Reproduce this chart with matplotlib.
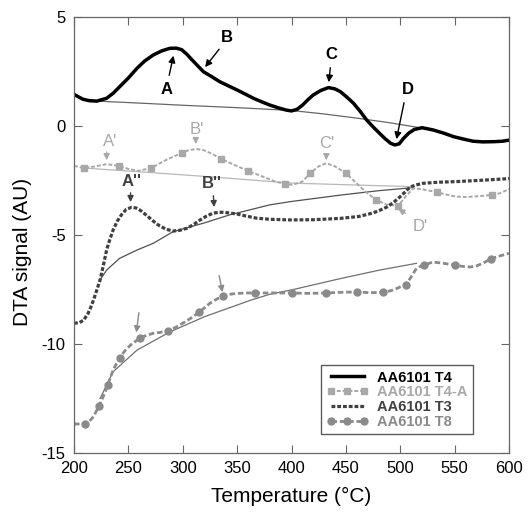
import matplotlib
matplotlib.use("Agg")
import matplotlib.pyplot as plt

plt.rcParams["font.family"] = ["Liberation Sans", "DejaVu Sans"]
plt.rcParams["axes.unicode_minus"] = False

# AA6101 T4 (solid black)
t4_temp = [200, 208, 214, 221, 230, 236, 242, 250, 258, 265, 273, 281, 288, 294, 299, 304, 308, 313,
           319, 327, 334, 342, 350, 358, 365, 373, 380, 388, 395, 400, 405, 410, 415, 420, 427, 434,
           440, 445, 451, 457, 463, 469, 475, 481, 486, 491, 495, 499, 503, 508, 513, 520, 530, 540,
           549, 558, 567, 576, 586, 594, 600]
t4_sig = [1.45, 1.23, 1.16, 1.14, 1.27, 1.5, 1.8, 2.2, 2.65, 2.98, 3.26, 3.45, 3.56, 3.57, 3.5, 3.28,
          3.06, 2.8, 2.49, 2.25, 2.03, 1.84, 1.65, 1.45, 1.27, 1.1, 0.96, 0.83, 0.73, 0.69, 0.76, 0.95,
          1.2, 1.42, 1.63, 1.76, 1.7, 1.57, 1.32, 1.04, 0.68, 0.28, -0.04, -0.34, -0.58, -0.79, -0.87,
          -0.82, -0.57, -0.32, -0.16, -0.08, -0.18, -0.33, -0.49, -0.6, -0.7, -0.73, -0.72, -0.7, -0.65]
t4_base_temp = [221, 260, 300, 350, 400, 430, 460, 490, 518]
t4_base_sig = [1.14, 1.05, 0.95, 0.84, 0.71, 0.55, 0.36, 0.15, -0.08]

# AA6101 T4-A (light grey, squares)
t4a_temp = [200, 209, 220, 230, 241, 250, 259, 271, 285, 299, 306, 313, 320, 327, 335, 348, 360, 375,
            385, 394, 401, 410, 417, 425, 432, 440, 450, 456, 463, 470, 478, 487, 498, 506, 512, 520,
            534, 545, 552, 561, 572, 584, 592, 600]
t4a_sig = [-1.83, -1.93, -1.85, -1.75, -1.83, -1.97, -2.06, -1.93, -1.55, -1.24, -1.1, -1.06, -1.12,
           -1.28, -1.5, -1.8, -2.06, -2.35, -2.55, -2.66, -2.7, -2.55, -2.17, -1.85, -1.71, -1.85, -2.17,
           -2.45, -2.78, -3.1, -3.39, -3.6, -3.67, -3.17, -2.86, -2.9, -3.04, -3.18, -3.24, -3.26, -3.22,
           -3.17, -3.08, -2.9]
t4a_squares = [1, 4, 7, 9, 14, 16, 19, 22, 26, 30, 32, 36, 41]
t4a_base_temp = [209, 260, 330, 400, 460, 509]
t4a_base_sig = [-1.93, -2.1, -2.35, -2.62, -2.71, -2.78]

# AA6101 T3 (dark dotted)
t3_temp = [200, 205, 209, 213, 216, 219, 224, 227, 230, 233, 236, 240, 244, 248, 253, 257, 261, 265,
           270, 275, 279, 285, 291, 297, 304, 310, 316, 322, 328, 333, 337, 343, 350, 358, 368, 380,
           399, 420, 445, 462, 475, 482, 488, 494, 500, 505, 509, 515, 521, 535, 552, 575, 598, 600]
t3_sig = [-9.05, -9.02, -8.9, -8.59, -8.25, -7.83, -7.06, -6.4, -5.69, -5.2, -4.77, -4.35, -4.05,
          -3.83, -3.73, -3.76, -3.87, -4.03, -4.24, -4.45, -4.59, -4.74, -4.82, -4.79, -4.69, -4.52,
          -4.31, -4.13, -4.0, -3.96, -3.96, -3.99, -4.04, -4.13, -4.23, -4.28, -4.31, -4.3, -4.24,
          -4.15, -3.99, -3.85, -3.71, -3.5, -3.24, -3.0, -2.8, -2.7, -2.63, -2.58, -2.55, -2.49, -2.42,
          -2.41]
t3_base_temp = [224, 230, 242, 258, 273, 291, 319, 343, 380, 399, 445, 480, 509]
t3_base_sig = [-7.06, -6.61, -6.07, -5.69, -5.38, -4.85, -4.46, -4.08, -3.62, -3.47, -3.17, -2.97, -2.84]

# AA6101 T8 (grey, circles)
t8_temp = [200, 210, 214, 218, 223, 227, 231, 236, 242, 247, 252, 261, 267, 273, 279, 286, 293, 300,
           308, 315, 320, 325, 331, 337, 343, 350, 359, 366, 383, 400, 416, 432, 446, 460, 472, 484,
           492, 497, 501, 505, 509, 514, 518, 522, 530, 540, 550, 557, 564, 570, 576, 583, 591, 598,
           600]
t8_sig = [-13.67, -13.67, -13.55, -13.33, -12.84, -12.4, -11.89, -11.19, -10.63, -10.3, -10.05, -9.71,
          -9.6, -9.51, -9.47, -9.4, -9.25, -9.05, -8.8, -8.55, -8.34, -8.13, -7.95, -7.8, -7.72, -7.68,
          -7.66, -7.66, -7.66, -7.66, -7.68, -7.66, -7.63, -7.61, -7.65, -7.63, -7.55, -7.45, -7.36,
          -7.3, -7.0, -6.6, -6.45, -6.38, -6.24, -6.3, -6.38, -6.44, -6.47, -6.42, -6.3, -6.1, -5.97,
          -5.87, -5.84]
t8_circles = [1, 4, 6, 8, 11, 15, 19, 23, 27, 29, 31, 33, 35, 39, 43, 46, 51]
t8_base_temp = [224, 236, 258, 288, 320, 362, 380, 400, 445, 481, 515]
t8_base_sig = [-12.5, -11.27, -10.28, -9.45, -8.75, -8.0, -7.72, -7.52, -7.0, -6.61, -6.3]

# peak labels: text, text position, arrow tail, arrow tip
labels_t4 = [("A", 285, 1.65, 287, 2.2, 292, 3.35),
             ("B", 341, 4.04, 335, 3.62, 319, 2.6),
             ("C", 437, 3.26, 436, 2.8, 434, 1.88),
             ("D", 507, 1.65, 504, 1.19, 496, -0.73)]
labels_t4a = [("A'", 233, -0.69, 230, -1.06, 230, -1.7),
              ("B'", 313, -0.14, 312, -0.5, 312, -0.96),
              ("C'", 432, -0.8, 432, -1.18, 432, -1.7),
              ("D'", 518, -4.62, 507, -4.08, 496, -3.73)]
labels_t3 = [("A''", 253, -2.57, 252, -2.94, 252, -3.62),
             ("B''", 327, -2.62, 328, -3.07, 329, -3.85)]
arrows_t8 = [(260, -8.44, 257, -9.6), (333, -6.74, 337, -7.75)]

fig = plt.figure(figsize=(5.3, 5.14), dpi=100)
ax = fig.add_axes([0.1396, 0.1187, 0.8208, 0.8483])

c_t4, c_t4a, c_t3, c_t8 = "black", "#a8a8a8", "#404040", "#8a8a8a"

ax.plot(t4_base_temp, t4_base_sig, color="#666666", lw=0.9)
ax.plot(t4a_base_temp, t4a_base_sig, color="#b8b8b8", lw=0.9)
ax.plot(t3_base_temp, t3_base_sig, color="#505050", lw=0.9)
ax.plot(t8_base_temp, t8_base_sig, color="#707070", lw=0.9)

ax.plot(t4_temp, t4_sig, color=c_t4, lw=2.5, label="AA6101 T4")
ax.plot(t4a_temp, t4a_sig, color=c_t4a, lw=1.4, ls=(0, (2, 1)), marker="s", ms=5,
        markevery=t4a_squares, label="AA6101 T4-A")
ax.plot(t3_temp, t3_sig, color=c_t3, lw=2.3, ls=(0, (1.2, 0.6)), label="AA6101 T3")
ax.plot(t8_temp, t8_sig, color=c_t8, lw=2.0, ls=(0, (2, 1)), marker="o", ms=5,
        markevery=t8_circles, label="AA6101 T8")

for txt, tx, ty, ax0, ay0, ax1, ay1 in labels_t4:
    ax.text(tx, ty, txt, fontsize=12, fontweight="bold", color=c_t4, ha="center", va="center")
    ax.annotate("", xy=(ax1, ay1), xytext=(ax0, ay0),
                arrowprops=dict(arrowstyle="-|>", color=c_t4, lw=1.0, mutation_scale=10))
for txt, tx, ty, ax0, ay0, ax1, ay1 in labels_t4a:
    ax.text(tx, ty, txt, fontsize=12, color=c_t4a, ha="center", va="center")
    ax.annotate("", xy=(ax1, ay1), xytext=(ax0, ay0),
                arrowprops=dict(arrowstyle="-|>", color=c_t4a, lw=1.0, mutation_scale=9))
for txt, tx, ty, ax0, ay0, ax1, ay1 in labels_t3:
    ax.text(tx, ty, txt, fontsize=12, fontweight="bold", color=c_t3, ha="center", va="center")
    ax.annotate("", xy=(ax1, ay1), xytext=(ax0, ay0),
                arrowprops=dict(arrowstyle="-|>", color=c_t3, lw=1.0, mutation_scale=9))
for ax0, ay0, ax1, ay1 in arrows_t8:
    ax.annotate("", xy=(ax1, ay1), xytext=(ax0, ay0),
                arrowprops=dict(arrowstyle="-|>", color=c_t8, lw=1.0, mutation_scale=9))

ax.set_xlim(200, 600)
ax.set_ylim(-15, 5)
ax.set_xticks(range(200, 601, 50))
ax.set_yticks(range(-15, 6, 5))
ax.tick_params(direction="in", length=6, width=0.8, color="#666666", labelsize=12,
               top=True, right=True, pad=6)
for s in ax.spines.values():
    s.set_color("#666666")
    s.set_linewidth(0.9)
ax.set_xlabel("Temperature (°C)", fontsize=15, labelpad=8)
ax.set_ylabel("DTA signal (AU)", fontsize=15)
ax.yaxis.set_label_coords(-0.097, 0.46)

leg = ax.legend(loc="lower right", bbox_to_anchor=(0.917, 0.044), frameon=True, fancybox=False,
                edgecolor="#333333", handlelength=2.9, borderpad=0.35, labelspacing=0.05,
                handletextpad=0.6, borderaxespad=0, numpoints=3,
                prop={"weight": "bold", "size": 10.5})
leg.get_frame().set_linewidth(1.0)
for t, c in zip(leg.get_texts(), [c_t4, c_t4a, c_t3, c_t8]):
    t.set_color(c)

fig.savefig("out.png", dpi=100)
